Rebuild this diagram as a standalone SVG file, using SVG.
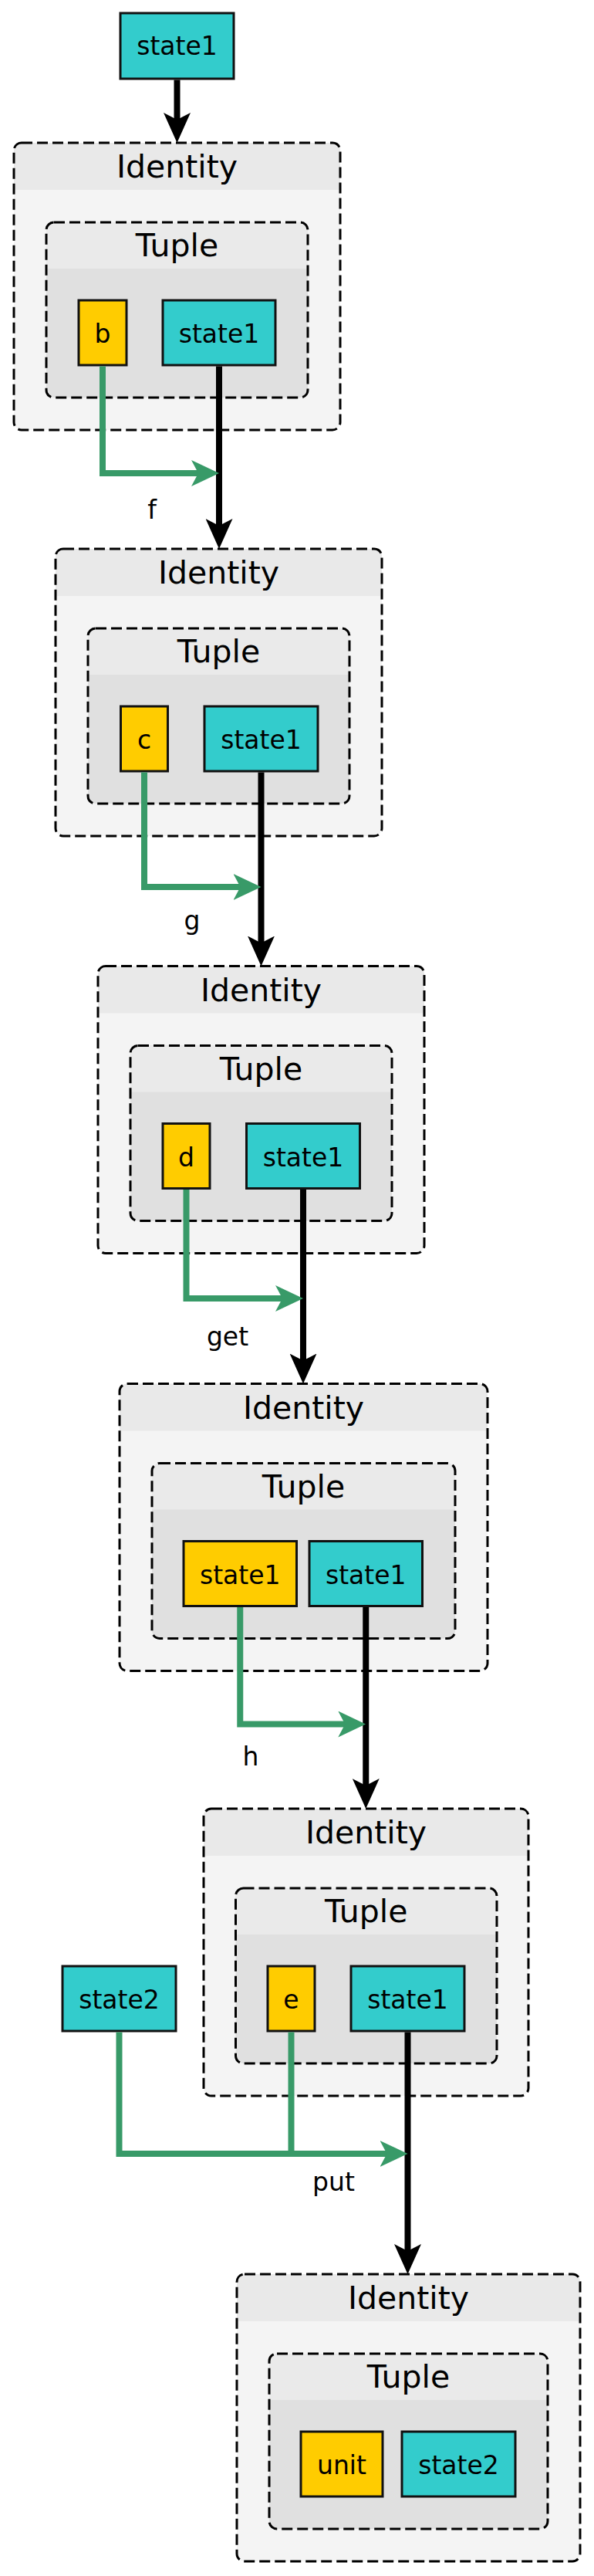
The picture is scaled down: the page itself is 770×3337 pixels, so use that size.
<svg xmlns="http://www.w3.org/2000/svg" width="770" height="3337" viewBox="0 0 770 3337">
<style>
.bg{fill:#ffffff}
.idb{fill:#f4f4f4}
.idh{fill:#e9e9e9}
.tub{fill:#e0e0e0}
.tuh{fill:#eaeaea}
.frame{fill:none;stroke:#000;stroke-width:3;stroke-dasharray:14 6}
.cy{fill:#33cccc;stroke:#111;stroke-width:3}
.ye{fill:#ffcc00;stroke:#111;stroke-width:3}
text{font-family:"DejaVu Sans","Liberation Sans",sans-serif;fill:#000;text-anchor:middle}
.title{font-size:41px}
.lbl{font-size:33px}
.elbl{font-size:33px}
.blk{fill:none;stroke:#000;stroke-width:8;marker-end:url(#ab)}
.grn{fill:none;stroke:#389a68;stroke-width:8;stroke-linejoin:miter}
.grna{marker-end:url(#ag)}
</style>
<defs>
<marker id="ab" markerUnits="userSpaceOnUse" viewBox="0 0 39 35" markerWidth="39" markerHeight="35" refX="12" refY="17.5" orient="auto"><path d="M0,0 L39,17.5 L0,35 L9,17.5 Z" fill="#000"/></marker>
<marker id="ag" markerUnits="userSpaceOnUse" viewBox="0 0 36 34" markerWidth="36" markerHeight="34" refX="12" refY="17" orient="auto"><path d="M0,0 L36,17 L0,34 L9,17 Z" fill="#389a68"/></marker>
</defs>
<rect class="bg" x="0" y="0" width="770" height="3337"/>

<g id="state1_in">
<rect class="cy" x="156" y="17" width="147" height="85"/>
<text class="lbl" x="229.5" y="71">state1</text>
</g>

<g id="identity1">
<rect class="idb" x="18" y="185" width="423" height="372" rx="10"/>
<path class="idh" d="M18,246 V195 Q18,185 28,185 H431 Q441,185 441,195 V246 Z"/>
<rect class="frame" x="18" y="185" width="423" height="372" rx="10"/>
<text class="title" x="229.5" y="230">Identity</text>
<g id="tuple1">
<rect class="tub" x="60" y="288" width="339" height="227" rx="10"/>
<path class="tuh" d="M60,348 V298 Q60,288 70,288 H389 Q399,288 399,298 V348 Z"/>
<rect class="frame" x="60" y="288" width="339" height="227" rx="10"/>
<text class="title" x="229.5" y="332">Tuple</text>
<g id="b"><rect class="ye" x="102" y="389" width="62" height="84"/><text class="lbl" x="133" y="444">b</text></g>
<g id="state1_1"><rect class="cy" x="211" y="389" width="146" height="84"/><text class="lbl" x="284" y="444">state1</text></g>
</g>
</g>

<g id="identity2">
<rect class="idb" x="72" y="711" width="423" height="372" rx="10"/>
<path class="idh" d="M72,772 V721 Q72,711 82,711 H485 Q495,711 495,721 V772 Z"/>
<rect class="frame" x="72" y="711" width="423" height="372" rx="10"/>
<text class="title" x="283.5" y="756">Identity</text>
<g id="tuple2">
<rect class="tub" x="114" y="814" width="339" height="227" rx="10"/>
<path class="tuh" d="M114,874 V824 Q114,814 124,814 H443 Q453,814 453,824 V874 Z"/>
<rect class="frame" x="114" y="814" width="339" height="227" rx="10"/>
<text class="title" x="283.5" y="858">Tuple</text>
<g id="c"><rect class="ye" x="156.5" y="915" width="61" height="84"/><text class="lbl" x="187" y="970">c</text></g>
<g id="state1_2"><rect class="cy" x="265" y="915" width="147" height="84"/><text class="lbl" x="338.5" y="970">state1</text></g>
</g>
</g>

<g id="identity3">
<rect class="idb" x="127" y="1251.5" width="423" height="372" rx="10"/>
<path class="idh" d="M127,1312.5 V1261.5 Q127,1251.5 137,1251.5 H540 Q550,1251.5 550,1261.5 V1312.5 Z"/>
<rect class="frame" x="127" y="1251.5" width="423" height="372" rx="10"/>
<text class="title" x="338.5" y="1296.5">Identity</text>
<g id="tuple3">
<rect class="tub" x="169" y="1354.5" width="339" height="227" rx="10"/>
<path class="tuh" d="M169,1414.5 V1364.5 Q169,1354.5 179,1354.5 H498 Q508,1354.5 508,1364.5 V1414.5 Z"/>
<rect class="frame" x="169" y="1354.5" width="339" height="227" rx="10"/>
<text class="title" x="338.5" y="1398.5">Tuple</text>
<g id="d"><rect class="ye" x="211" y="1455.5" width="61" height="84"/><text class="lbl" x="241.5" y="1510.5">d</text></g>
<g id="state1_3"><rect class="cy" x="319.5" y="1455.5" width="147" height="84"/><text class="lbl" x="393" y="1510.5">state1</text></g>
</g>
</g>

<g id="identity4">
<rect class="idb" x="155" y="1792.5" width="477" height="372" rx="10"/>
<path class="idh" d="M155,1853.5 V1802.5 Q155,1792.5 165,1792.5 H622 Q632,1792.5 632,1802.5 V1853.5 Z"/>
<rect class="frame" x="155" y="1792.5" width="477" height="372" rx="10"/>
<text class="title" x="393.5" y="1837.5">Identity</text>
<g id="tuple4">
<rect class="tub" x="197" y="1895.5" width="393" height="227" rx="10"/>
<path class="tuh" d="M197,1955.5 V1905.5 Q197,1895.5 207,1895.5 H580 Q590,1895.5 590,1905.5 V1955.5 Z"/>
<rect class="frame" x="197" y="1895.5" width="393" height="227" rx="10"/>
<text class="title" x="393.5" y="1939.5">Tuple</text>
<g id="state1_y"><rect class="ye" x="238" y="1996.5" width="146.5" height="84"/><text class="lbl" x="311.25" y="2051.5">state1</text></g>
<g id="state1_4"><rect class="cy" x="401" y="1996.5" width="146.5" height="84"/><text class="lbl" x="474.25" y="2051.5">state1</text></g>
</g>
</g>

<g id="state2_in">
<rect class="cy" x="81" y="2547" width="147" height="84"/>
<text class="lbl" x="154.5" y="2602">state2</text>
</g>

<g id="identity5">
<rect class="idb" x="264" y="2343" width="421" height="372" rx="10"/>
<path class="idh" d="M264,2404 V2353 Q264,2343 274,2343 H675 Q685,2343 685,2353 V2404 Z"/>
<rect class="frame" x="264" y="2343" width="421" height="372" rx="10"/>
<text class="title" x="474.5" y="2388">Identity</text>
<g id="tuple5">
<rect class="tub" x="305.5" y="2446" width="338.5" height="227" rx="10"/>
<path class="tuh" d="M305.5,2506 V2456 Q305.5,2446 315.5,2446 H634 Q644,2446 644,2456 V2506 Z"/>
<rect class="frame" x="305.5" y="2446" width="338.5" height="227" rx="10"/>
<text class="title" x="474.75" y="2490">Tuple</text>
<g id="e"><rect class="ye" x="347" y="2547" width="61" height="84"/><text class="lbl" x="377.5" y="2602">e</text></g>
<g id="state1_5"><rect class="cy" x="455" y="2547" width="147" height="84"/><text class="lbl" x="528.5" y="2602">state1</text></g>
</g>
</g>

<g id="identity6">
<rect class="idb" x="307" y="2946" width="445" height="372" rx="10"/>
<path class="idh" d="M307,3007 V2956 Q307,2946 317,2946 H742 Q752,2946 752,2956 V3007 Z"/>
<rect class="frame" x="307" y="2946" width="445" height="372" rx="10"/>
<text class="title" x="529.5" y="2991">Identity</text>
<g id="tuple6">
<rect class="tub" x="349" y="3049" width="361" height="227" rx="10"/>
<path class="tuh" d="M349,3109 V3059 Q349,3049 359,3049 H700 Q710,3049 710,3059 V3109 Z"/>
<rect class="frame" x="349" y="3049" width="361" height="227" rx="10"/>
<text class="title" x="529.5" y="3093">Tuple</text>
<g id="unit"><rect class="ye" x="390" y="3150" width="106" height="84"/><text class="lbl" x="443" y="3205">unit</text></g>
<g id="state2_6"><rect class="cy" x="521" y="3150" width="147" height="84"/><text class="lbl" x="594.5" y="3205">state2</text></g>
</g>
</g>

<g id="connectors">
<path class="blk" d="M229.5,103.5 V158"/>
<path class="blk" d="M284,474.5 V684"/>
<path class="blk" d="M338.5,1000.5 V1224.5"/>
<path class="blk" d="M393,1541 V1765.5"/>
<path class="blk" d="M474.25,2082 V2316"/>
<path class="blk" d="M528.5,2632.5 V2919"/>
<path class="grn grna" d="M133,474.5 V613 H260"/>
<path class="grn grna" d="M187,1000.5 V1149 H314.5"/>
<path class="grn grna" d="M241.5,1541 V1682 H369"/>
<path class="grn grna" d="M311.25,2082 V2233.5 H450.25"/>
<path class="grn grna" d="M154.5,2632.5 V2790 H504.5"/>
<path class="grn" d="M377.5,2632.5 V2790"/>
<text class="elbl" x="197" y="672">f</text>
<text class="elbl" x="249" y="1204">g</text>
<text class="elbl" x="295" y="1742.5">get</text>
<text class="elbl" x="325" y="2287">h</text>
<text class="elbl" x="432.5" y="2838">put</text>
</g>
</svg>
